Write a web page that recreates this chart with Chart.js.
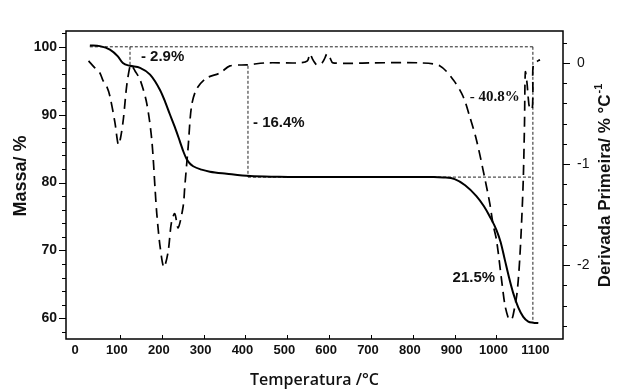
<!DOCTYPE html>
<html><head><meta charset="utf-8">
<script src="https://cdn.jsdelivr.net/npm/chart.js@4"></script>
<style>html,body{margin:0;padding:0;background:#fff}#wrap{width:619px;height:390px;position:relative}</style>
</head><body><div id="wrap"><canvas id="c" width="619" height="390"></canvas></div>
<script>
// ---- data ----
const massT = [28, 52, 76, 95, 107, 124, 148, 172, 196, 208, 219, 231, 243, 252, 259, 267, 275, 295, 315, 355, 411, 480, 554, 650, 750, 850, 873, 900, 925, 952, 970, 984, 1000, 1010, 1020, 1030, 1040, 1052, 1064, 1076, 1088, 1100];
const massV = [100.2, 100.1, 99.6, 98.6, 97.6, 97.2, 96.9, 95.9, 93.6, 91.9, 90.1, 88.2, 86.1, 84.5, 83.5, 82.8, 82.4, 81.9, 81.6, 81.3, 80.95, 80.85, 80.8, 80.8, 80.8, 80.8, 80.75, 80.5, 79.6, 78.0, 76.5, 75.0, 73.0, 71.2, 68.6, 66.0, 63.7, 61.6, 60.2, 59.5, 59.35, 59.3];
const dtgT = [25, 40, 52, 59, 69, 76, 88, 96, 101, 108, 116, 124, 127, 136, 148, 164, 176, 184, 188, 196, 205, 215, 223, 231, 239, 251, 255, 263, 271, 283, 307, 339, 363, 403, 451, 530, 548, 554, 560, 566, 571, 583, 590, 595, 602, 609, 700, 817, 865, 897, 920, 936, 952, 968, 984, 992, 1000, 1012, 1020, 1028, 1032, 1037, 1040, 1048, 1052, 1056, 1060, 1064, 1067, 1069, 1073, 1076, 1079, 1085, 1087, 1088, 1099, 1104];
const dtgV = [0.02, -0.05, -0.10, -0.17, -0.24, -0.33, -0.59, -0.81, -0.75, -0.56, -0.23, -0.03, -0.02, -0.08, -0.165, -0.40, -0.76, -1.25, -1.49, -1.82, -2.02, -1.87, -1.58, -1.49, -1.63, -1.42, -1.22, -0.83, -0.43, -0.26, -0.15, -0.10, -0.03, -0.02, 0, 0, 0.02, 0.09, 0.04, 0, -0.02, 0, 0.05, 0.09, 0.05, 0, 0, 0, -0.03, -0.17, -0.33, -0.53, -0.76, -1.06, -1.39, -1.6, -1.75, -2.14, -2.39, -2.52, -2.54, -2.53, -2.49, -2.31, -2.15, -1.91, -1.58, -1.16, -0.6, -0.09, -0.2, -0.35, -0.44, -0.46, -0.3, -0.02, 0.02, 0.03];
const xTicks = [0, 100, 200, 300, 400, 500, 600, 700, 800, 900, 1000, 1100];
const massTicks = [60, 70, 80, 90, 100];
const dtgTicks = [-2, -1, 0];
// step construction (temperatures and mass levels)
const stepTemps = [28, 124, 406, 1087];
const stepLevels = [100, 97.2, 80.8, 59.4];
// annotation labels and their anchor (temperature, mass)
const annText = ['- 2.9%', '- 16.4%', '- 40.8%', '21.5%'];
const annT = [150, 418, 936, 895];
const annM = [98.5, 88.8, 92.6, 65.9];

const pts = (xs, ys) => xs.map((x, i) => ({x, y: ys[i]}));
const refLines = [
  [{x: stepTemps[0], y: stepLevels[0]}, {x: stepTemps[3], y: stepLevels[0]}],
  [{x: stepTemps[1], y: stepLevels[0]}, {x: stepTemps[1], y: stepLevels[1]}],
  [{x: stepTemps[2], y: stepLevels[1]}, {x: stepTemps[2], y: stepLevels[2]}],
  [{x: stepTemps[2], y: stepLevels[2]}, {x: stepTemps[3], y: stepLevels[2]}],
  [{x: stepTemps[3], y: stepLevels[0]}, {x: stepTemps[3], y: stepLevels[3]}]
];

const INK = '#111';
const refDatasets = refLines.map(d => ({
  data: d, yAxisID: 'y', borderColor: '#222', borderWidth: 1, borderDash: [3, 2],
  pointRadius: 0, tension: 0, fill: false
}));

const decor = {
  id: 'decor',
  afterDraw(chart) {
    const {ctx, chartArea: a, scales: {x, y, y2}} = chart;
    ctx.save();
    ctx.strokeStyle = '#000';
    const seg = (x1, y1, x2, y2_) => { ctx.beginPath(); ctx.moveTo(x1, y1); ctx.lineTo(x2, y2_); ctx.stroke(); };
    ctx.lineWidth = 1.5;
    ctx.strokeRect(a.left, a.top, a.right - a.left, a.bottom - a.top);
    ctx.lineWidth = 1;
    for (let v = 58; v <= 102; v += 2) {
      const py = Math.round(y.getPixelForValue(v)) + 0.5;
      seg(a.left - (v % 10 === 0 ? 7 : 4), py, a.left, py);
    }
    for (let i = -13; i <= 1; i++) {
      const py = Math.round(y2.getPixelForValue(i * 0.2)) + 0.5;
      seg(a.right, py, a.right + (i % 5 === 0 ? 7 : 4), py);
    }
    xTicks.slice(1, 11).forEach(v => {
      const px = Math.round(x.getPixelForValue(v)) + 0.5;
      seg(px, a.bottom, px, a.bottom - 4);
    });
    ctx.fillStyle = INK;
    // left title
    ctx.save();
    ctx.translate(21.5, 176);
    ctx.rotate(-Math.PI / 2);
    ctx.font = 'bold 18px "Liberation Sans", Arial, sans-serif';
    ctx.textAlign = 'center'; ctx.textBaseline = 'middle';
    ctx.fillText('Massa/ %', 0, 0);
    ctx.restore();
    // right title with superscript
    ctx.save();
    ctx.translate(605, 186);
    ctx.rotate(-Math.PI / 2);
    const mainT = 'Derivada Primeira/ % \u00B0C', supT = '-1';
    ctx.font = 'bold 17px "Liberation Sans", Arial, sans-serif';
    const w1 = ctx.measureText(mainT).width;
    ctx.font = 'bold 11px "Liberation Sans", Arial, sans-serif';
    const w2 = ctx.measureText(supT).width;
    const sx = -(w1 + w2) / 2;
    ctx.textBaseline = 'middle'; ctx.textAlign = 'left';
    ctx.font = 'bold 17px "Liberation Sans", Arial, sans-serif';
    ctx.fillText(mainT, sx, 0);
    ctx.font = 'bold 11px "Liberation Sans", Arial, sans-serif';
    ctx.fillText(supT, sx + w1 + 1, -6);
    ctx.restore();
    // annotations
    ctx.textAlign = 'left'; ctx.textBaseline = 'middle';
    annText.forEach((t, i) => {
      ctx.font = i === 2 ? 'bold 15px "Liberation Serif", serif' : 'bold 15px "Liberation Sans", Arial, sans-serif';
      ctx.fillText(t, x.getPixelForValue(annT[i]), y.getPixelForValue(annM[i]));
    });
    ctx.restore();
  }
};

new Chart(document.getElementById('c'), {
  type: 'line',
  data: {
    datasets: [
      {label: 'Massa', data: pts(massT, massV), yAxisID: 'y', borderColor: '#000', borderWidth: 2,
       pointRadius: 0, cubicInterpolationMode: 'monotone', fill: false},
      {label: 'DTG', data: pts(dtgT, dtgV), yAxisID: 'y2', borderColor: '#000', borderWidth: 1.7,
       borderDash: [10, 6], pointRadius: 0, tension: 0.3, fill: false},
      ...refDatasets
    ]
  },
  options: {
    responsive: false, animation: false, devicePixelRatio: 1,
    layout: {padding: {top: 31, left: 0, right: 0, bottom: 0}},
    plugins: {legend: {display: false}, tooltip: {enabled: false}},
    scales: {
      x: {
        type: 'linear', min: -29, max: 1159,
        afterBuildTicks: s => { s.ticks = xTicks.map(v => ({value: v})); },
        afterFit: s => { s.height = 51; },
        grid: {display: false, drawTicks: false}, border: {display: false},
        ticks: {color: INK, font: {family: '"Liberation Sans", Arial, sans-serif', weight: 'bold', size: 13},
                padding: 4, maxRotation: 0, autoSkip: false, labelOffset: -3, callback: v => String(v)},
        title: {display: true, text: 'Temperatura /\u00B0C', color: INK,
                font: {family: '"Open Sans", sans-serif', weight: '600', size: 16}, padding: {top: 2, bottom: 0}}
      },
      y: {
        position: 'left', min: 56.94, max: 102.33,
        afterBuildTicks: s => { s.ticks = massTicks.map(v => ({value: v})); },
        afterFit: s => { s.width = 66; },
        grid: {display: false, drawTicks: false}, border: {display: false},
        ticks: {color: INK, font: {family: '"Liberation Sans", Arial, sans-serif', weight: 'bold', size: 14}, padding: 9}
      },
      y2: {
        position: 'right', min: -2.73, max: 0.315,
        afterBuildTicks: s => { s.ticks = dtgTicks.map(v => ({value: v})); },
        afterFit: s => { s.width = 56; },
        grid: {display: false, drawTicks: false}, border: {display: false},
        ticks: {color: INK, font: {family: '"Liberation Sans", Arial, sans-serif', size: 14}, padding: 14,
                callback: v => String(v)}
      }
    }
  },
  plugins: [decor]
});
</script>
</body></html>
